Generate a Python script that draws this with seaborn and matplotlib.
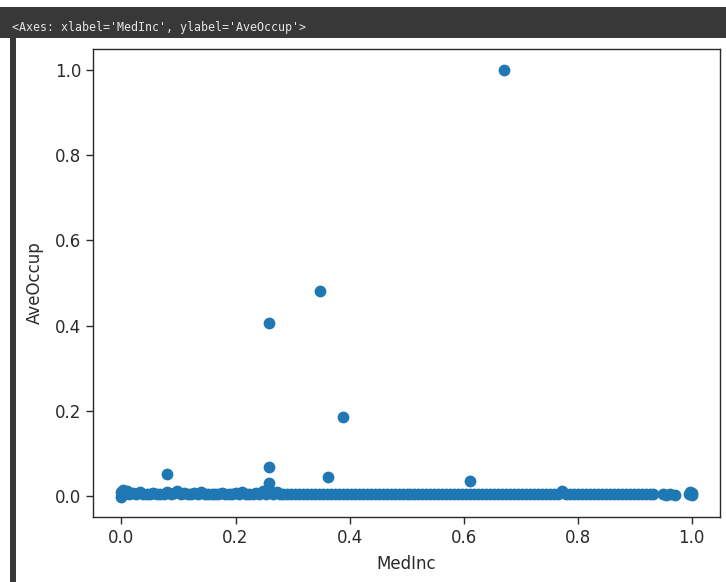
import numpy as np
import pandas as pd
import matplotlib
matplotlib.use('Agg')
import matplotlib.pyplot as plt
from matplotlib.patches import Rectangle
import seaborn as sns

# outliers
outlier_x = [0.671, 0.348, 0.259, 0.389, 0.080, 0.259, 0.259, 0.363, 0.611, 0.772]
outlier_y = [1.000, 0.482, 0.407, 0.186, 0.052, 0.067, 0.030, 0.043, 0.034, 0.012]

# dense band near zero, sampled along its length
band_x = [0.000, 0.004, 0.009, 0.014, 0.020, 0.026, 0.032, 0.038, 0.044, 0.050,
          0.056, 0.062, 0.068, 0.074, 0.080, 0.086, 0.092, 0.098, 0.104, 0.110,
          0.116, 0.122, 0.128, 0.134, 0.140, 0.146, 0.152, 0.158, 0.164, 0.170,
          0.176, 0.182, 0.188, 0.194, 0.200, 0.206, 0.212, 0.218, 0.224, 0.230,
          0.236, 0.242, 0.248, 0.254, 0.260, 0.266, 0.272, 0.278, 0.284, 0.290,
          0.297, 0.304, 0.311, 0.318, 0.325, 0.332, 0.339, 0.346, 0.353, 0.360,
          0.367, 0.374, 0.381, 0.388, 0.395, 0.402, 0.409, 0.416, 0.423, 0.430,
          0.437, 0.444, 0.451, 0.458, 0.465, 0.472, 0.479, 0.486, 0.493, 0.500,
          0.507, 0.514, 0.521, 0.528, 0.535, 0.542, 0.549, 0.556, 0.563, 0.570,
          0.577, 0.584, 0.591, 0.598, 0.605, 0.612, 0.619, 0.626, 0.633, 0.640,
          0.647, 0.654, 0.661, 0.668, 0.675, 0.682, 0.689, 0.696, 0.703, 0.710,
          0.717, 0.724, 0.731, 0.738, 0.745, 0.752, 0.759, 0.766, 0.773, 0.780,
          0.787, 0.794, 0.801, 0.808, 0.815, 0.822, 0.829, 0.836, 0.843, 0.850,
          0.857, 0.864, 0.871, 0.878, 0.885, 0.892, 0.899, 0.906, 0.913, 0.920,
          0.927, 0.932,
          0.950, 0.956, 0.962, 0.971, 0.996, 0.998, 1.000, 1.000,
          0.000, 0.002, 0.001]
band_y = [0.008, 0.003, 0.010, 0.003, 0.007, 0.003, 0.009, 0.003, 0.005, 0.003,
          0.006, 0.003, 0.005, 0.003, 0.009, 0.003, 0.006, 0.011, 0.003, 0.006,
          0.003, 0.004, 0.007, 0.003, 0.009, 0.003, 0.005, 0.003, 0.004, 0.003,
          0.006, 0.003, 0.004, 0.003, 0.007, 0.003, 0.009, 0.003, 0.005, 0.003,
          0.007, 0.003, 0.010, 0.003, 0.011, 0.003, 0.008, 0.003, 0.005, 0.003,
          0.003, 0.003, 0.003, 0.003, 0.003, 0.003, 0.003, 0.003, 0.003, 0.003,
          0.003, 0.003, 0.003, 0.003, 0.003, 0.003, 0.003, 0.003, 0.003, 0.003,
          0.003, 0.003, 0.003, 0.003, 0.003, 0.003, 0.003, 0.003, 0.003, 0.003,
          0.003, 0.003, 0.003, 0.003, 0.003, 0.003, 0.003, 0.003, 0.003, 0.003,
          0.003, 0.003, 0.003, 0.003, 0.003, 0.003, 0.003, 0.003, 0.003, 0.003,
          0.003, 0.003, 0.003, 0.003, 0.003, 0.003, 0.003, 0.003, 0.003, 0.003,
          0.003, 0.003, 0.003, 0.003, 0.003, 0.003, 0.003, 0.004, 0.008, 0.004,
          0.003, 0.003, 0.003, 0.003, 0.003, 0.003, 0.003, 0.003, 0.003, 0.003,
          0.003, 0.003, 0.003, 0.003, 0.003, 0.003, 0.003, 0.003, 0.003, 0.003,
          0.003, 0.003,
          0.003, 0.002, 0.003, 0.002, 0.004, 0.008, 0.002, 0.006,
          -0.003, 0.014, 0.001]

header_text = "<Axes: xlabel='MedInc', ylabel='AveOccup'>"
tick_values = [0.0, 0.2, 0.4, 0.6, 0.8, 1.0]

df = pd.DataFrame({
    'MedInc': band_x + outlier_x,
    'AveOccup': band_y + outlier_y,
})

sns.set_style('ticks')
plt.rcParams['font.family'] = ['DejaVu Sans']

fig = plt.figure(figsize=(7.26, 5.82), dpi=100)
fig.patch.set_facecolor('white')

# notebook output chrome: dark header bar and left stripe
fig.patches.append(Rectangle((0, 1 - 38 / 582), 1, 31 / 582, transform=fig.transFigure,
                             facecolor='#383838', edgecolor='none', zorder=0))
fig.patches.append(Rectangle((10 / 726, 0), 6 / 726, 1 - 38 / 582, transform=fig.transFigure,
                             facecolor='#383838', edgecolor='none', zorder=0))
fig.text(12 / 726, 1 - 27 / 582, header_text, family='DejaVu Sans Mono', fontsize=8.4,
         color='#e6e6e6', va='center', ha='left')

ax = fig.add_axes([93 / 726, 65 / 582, 627 / 726, 468 / 582])
sns.scatterplot(data=df, x='MedInc', y='AveOccup', s=72, color='#1f77b4',
                linewidth=0, ax=ax)

ax.set_xticks(tick_values)
ax.set_yticks(tick_values)
ax.set_xlim(-0.05, 1.05)
ax.set_ylim(-0.05, 1.05)
ax.tick_params(labelsize=12, length=5, width=1.0, colors='#2a2a2a')
ax.set_xlabel('MedInc', fontsize=12, color='#2a2a2a', labelpad=6)
ax.set_ylabel('AveOccup', fontsize=12, color='#2a2a2a', labelpad=8)
for sp in ax.spines.values():
    sp.set_visible(True)
    sp.set_linewidth(1.0)
    sp.set_color('#2a2a2a')

fig.savefig('out.png', dpi=100)
